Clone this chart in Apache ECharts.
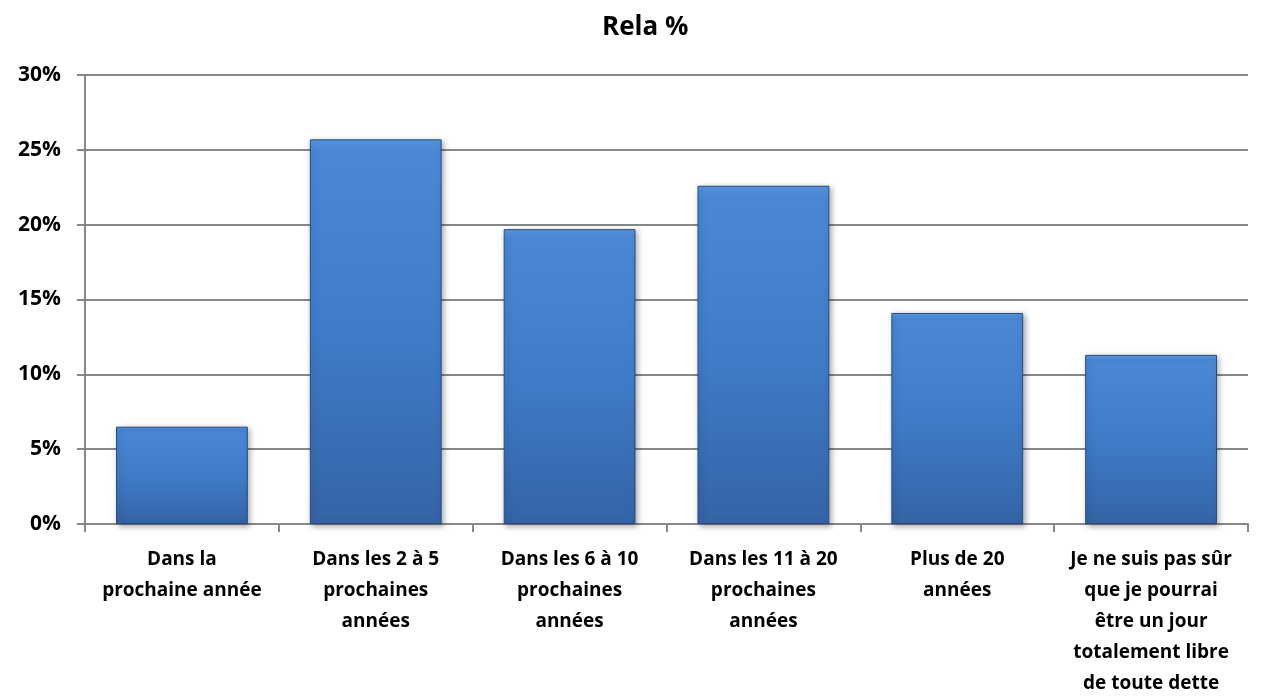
<!DOCTYPE html>
<html>
<head>
<meta charset="utf-8">
<script src="https://cdn.jsdelivr.net/npm/echarts@6/dist/echarts.min.js"></script>
<style>
  html, body { margin: 0; padding: 0; background: #fff; }
  #main { width: 1266px; height: 699px; }
</style>
</head>
<body>
<div id="main"></div>
<script>
  // données du graphique
  var categories = [
    'Dans la\nprochaine année',
    'Dans les 2 à 5\nprochaines\nannées',
    'Dans les 6 à 10\nprochaines\nannées',
    'Dans les 11 à 20\nprochaines\nannées',
    'Plus de 20\nannées',
    'Je ne suis pas sûr\nque je pourrai\nêtre un jour\ntotalement libre\nde toute dette'
  ];
  var values = [6.5, 25.7, 19.7, 22.6, 14.1, 11.3];
  var yTicks = [0, 5, 10, 15, 20, 25, 30];

  var myChart = echarts.init(document.getElementById('main'));
  var fontFam = 'Open Sans, Lato, sans-serif';

  var option = {
    animation: false,
    title: {
      text: 'Rela %',
      left: 597,
      top: 10,
      textStyle: { fontFamily: fontFam, fontSize: 26, fontWeight: 'bold', color: '#000' }
    },
    grid: { left: 85, right: 18, top: 75, bottom: 175, containLabel: false },
    xAxis: {
      type: 'category',
      data: categories,
      axisLine: { lineStyle: { color: '#888', width: 2 } },
      axisTick: { show: true, length: 8, lineStyle: { color: '#888', width: 2 } },
      axisLabel: {
        interval: 0,
        margin: 20,
        lineHeight: 31,
        fontFamily: fontFam, fontSize: 19, fontWeight: 'bold', color: '#000'
      }
    },
    yAxis: {
      type: 'value',
      min: yTicks[0],
      max: yTicks[yTicks.length - 1],
      interval: 5,
      axisLine: { show: true, lineStyle: { color: '#888', width: 2 } },
      axisTick: { show: true, length: 8, lineStyle: { color: '#888', width: 2 } },
      splitLine: { lineStyle: { color: '#888', width: 2 } },
      axisLabel: {
        margin: 24,
        formatter: '{value}%',
        fontFamily: fontFam, fontSize: 21, fontWeight: 'bold', color: '#000'
      }
    },
    series: [{
      type: 'bar',
      data: values,
      barWidth: '68%',
      itemStyle: {
        color: new echarts.graphic.LinearGradient(0, 0, 0, 1, [
          { offset: 0, color: '#5a9be6' },
          { offset: 0.03, color: '#4a88d6' },
          { offset: 0.5, color: '#3f7cc8' },
          { offset: 1, color: '#3563a6' }
        ]),
        borderColor: '#244d86',
        borderWidth: 1,
        shadowColor: 'rgba(0,0,0,0.35)',
        shadowBlur: 6,
        shadowOffsetX: 2,
        shadowOffsetY: 2
      }
    }]
  };

  myChart.setOption(option);
</script>
</body>
</html>
